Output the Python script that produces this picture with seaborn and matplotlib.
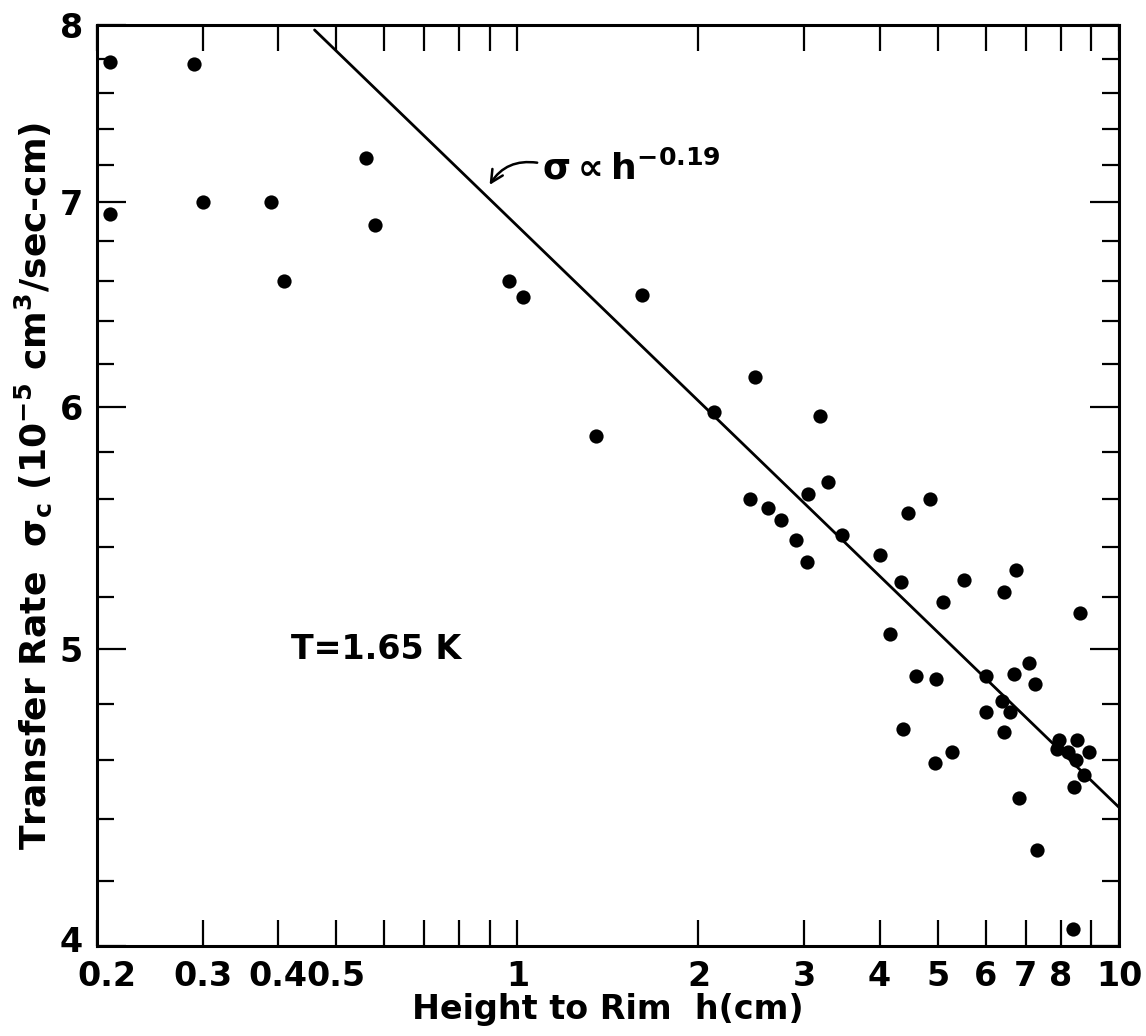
import numpy as np
import pandas as pd
import matplotlib
matplotlib.use("Agg")
import matplotlib.pyplot as plt
import matplotlib.ticker as mticker
import matplotlib.transforms as mtransforms
import seaborn as sns

# -------------------------
# Data
# -------------------------
height_cm = [0.21, 0.21, 0.29, 0.30, 0.39, 0.41, 0.56, 0.58, 0.97, 1.02,
             1.35, 1.61, 2.12, 2.48, 2.44, 2.61, 2.74, 2.90, 3.03, 3.04,
             3.18, 3.28, 3.47, 4.01, 4.17, 4.35, 4.37, 4.46, 4.59, 4.85,
             4.94, 4.97, 5.09, 5.27, 5.53, 6.01, 6.01, 6.38, 6.44, 6.44,
             6.60, 6.69, 6.74, 6.81, 7.09, 7.24, 7.31, 7.89, 7.95, 8.23,
             8.53, 8.50, 8.75, 8.42, 8.39, 8.63, 8.92]
transfer_rate = [7.78, 6.94, 7.77, 7.00, 7.00, 6.60, 7.24, 6.88, 6.60, 6.52,
                 5.87, 6.53, 5.98, 6.14, 5.60, 5.56, 5.51, 5.43, 5.34, 5.62,
                 5.96, 5.67, 5.45, 5.37, 5.06, 5.26, 4.71, 5.54, 4.90, 5.60,
                 4.59, 4.89, 5.18, 4.63, 5.27, 4.90, 4.77, 4.81, 5.22, 4.70,
                 4.77, 4.91, 5.31, 4.47, 4.95, 4.87, 4.30, 4.64, 4.67, 4.63,
                 4.67, 4.60, 4.55, 4.51, 4.05, 5.14, 4.63]

# power law line sigma ~ h^-0.19 (end points)
fit_h = [0.46, 10.0]
fit_sigma = [7.97, 4.44]

x_ticks = [0.2, 0.3, 0.4, 0.5, 0.6, 0.7, 0.8, 0.9, 1, 2, 3, 4, 5, 6, 7, 8, 9, 10]
x_labels = ["0.2", "0.3", "0.4", "0.5", "", "", "", "", "1",
            "2", "3", "4", "5", "6", "7", "8", "", "10"]
y_major = [4, 5, 6, 7, 8]
y_minor = [4.2, 4.4, 4.6, 4.8, 5.2, 5.4, 5.6, 5.8,
           6.2, 6.4, 6.6, 6.8, 7.2, 7.4, 7.6, 7.8]

df = pd.DataFrame({"h": height_cm, "sigma": transfer_rate})
fit = pd.DataFrame({"h": fit_h, "sigma": fit_sigma})

# -------------------------
# Style
# -------------------------
sns.set_style("ticks")
plt.rcParams['font.family'] = ['DejaVu Sans']
plt.rcParams['font.weight'] = 'bold'
plt.rcParams['mathtext.fontset'] = 'custom'
plt.rcParams['mathtext.rm'] = 'DejaVu Sans:bold'
plt.rcParams['mathtext.it'] = 'DejaVu Sans:bold'
plt.rcParams['mathtext.bf'] = 'DejaVu Sans:bold'
plt.rcParams['mathtext.default'] = 'rm'
plt.rcParams['text.color'] = 'black'
plt.rcParams['axes.labelcolor'] = 'black'
plt.rcParams['xtick.color'] = 'black'
plt.rcParams['ytick.color'] = 'black'

fig = plt.figure(figsize=(11.46, 10.36), dpi=100)
ax = fig.add_axes([0.0846, 0.0869, 0.8918, 0.8890])

# -------------------------
# Plot
# -------------------------
sns.lineplot(data=fit, x="h", y="sigma", color="black", linewidth=2.0, ax=ax)
sns.scatterplot(data=df, x="h", y="sigma", color="black", s=105,
                linewidth=0, ax=ax, zorder=3)

ax.set_xscale("log")
ax.set_yscale("log")
ax.set_xlim(0.2, 10)
ax.set_ylim(4, 8)

ax.xaxis.set_major_locator(mticker.FixedLocator(x_ticks))
ax.xaxis.set_major_formatter(mticker.FixedFormatter(x_labels))
ax.xaxis.set_minor_locator(mticker.NullLocator())
ax.yaxis.set_major_locator(mticker.FixedLocator(y_major))
ax.yaxis.set_major_formatter(mticker.FixedFormatter([str(v) for v in y_major]))
ax.yaxis.set_minor_locator(mticker.FixedLocator(y_minor))
ax.yaxis.set_minor_formatter(mticker.NullFormatter())

ax.tick_params(axis="x", which="major", direction="in", length=19, width=1.6,
               top=True, bottom=True, labelsize=24, pad=10)
ax.tick_params(axis="y", which="major", direction="in", length=21, width=1.6,
               left=True, right=True, labelsize=24, pad=10)
ax.tick_params(axis="y", which="minor", direction="in", length=12, width=1.6,
               left=True, right=True)

for side in ["top", "bottom", "left", "right"]:
    ax.spines[side].set_visible(True)
    ax.spines[side].set_linewidth(2.2)
    ax.spines[side].set_color("black")

# nudge the corner labels apart ("0.2" right, "4" up) as in the original
fig.canvas.draw()
first_x = ax.get_xticklabels()[0]
first_x.set_transform(first_x.get_transform() +
                      mtransforms.ScaledTranslation(10 / 100, 0, fig.dpi_scale_trans))
first_y = ax.get_yticklabels()[0]
first_y.set_transform(first_y.get_transform() +
                      mtransforms.ScaledTranslation(0, 7 / 100, fig.dpi_scale_trans))

ax.set_xlabel("Height to Rim  h(cm)", fontsize=24, fontweight="bold", labelpad=0)
ax.set_ylabel("Transfer Rate  $\\sigma_c$ (10$^{-5}$ cm$^3$/sec-cm)",
              fontsize=26, fontweight="bold", labelpad=4)

# annotation for the line
ax.text(1.10, 7.12, "$\\sigma \\propto h^{-0.19}$", fontsize=26,
        ha="left", va="baseline")
ax.annotate("", xy=(0.894, 7.08), xytext=(1.09, 7.21),
            arrowprops=dict(arrowstyle="->", color="black", lw=1.8,
                            mutation_scale=22,
                            connectionstyle="arc3,rad=0.35"))

ax.text(0.42, 5.0, "T=1.65 K", fontsize=24, fontweight="bold",
        ha="left", va="center")

plt.savefig("out.png", dpi=100)
